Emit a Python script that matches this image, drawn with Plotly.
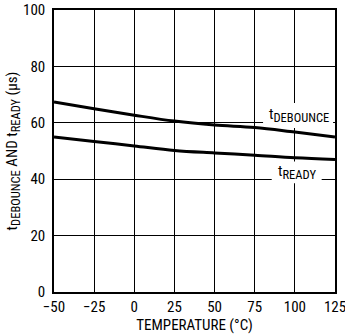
import plotly.graph_objects as go

temps = [-50, -25, 0, 25, 50, 75, 100, 125]
t_debounce = [67.4, 65.0, 62.7, 60.6, 59.2, 58.3, 56.7, 55.0]
t_ready = [55.0, 53.4, 51.8, 50.2, 49.3, 48.5, 47.6, 47.0]

x_ticks = [-50, -25, 0, 25, 50, 75, 100, 125]
x_ticklabels = ["\u221250", "\u221225", "0", "25", "50", "75", "100", "125"]
y_ticks = [0, 20, 40, 60, 80, 100]

FONT = "Liberation Sans Narrow, Arial Narrow, Roboto Condensed, sans-serif"
SUB = '<sub><span style="font-size:12.5px">{}</span></sub>'

fig = go.Figure()
for ys in (t_debounce, t_ready):
    fig.add_trace(go.Scatter(x=temps, y=ys, mode="lines", line=dict(color="black", width=3, shape="spline"),
                             showlegend=False, hoverinfo="skip"))

# white masks behind the labels (between gridlines and traces)
fig.add_shape(type="rect", x0=80.2, x1=123.8, y0=58.2, y1=67.0, fillcolor="white", line_width=0, layer="between")
fig.add_shape(type="rect", x0=85.6, x1=116.7, y0=38.6, y1=46.3, fillcolor="white", line_width=0, layer="between")

fig.add_annotation(x=102.6, y=62.7, text="t" + SUB.format("DEBOUNCE"), showarrow=False,
                   font=dict(family=FONT, size=15, color="black"), xanchor="center", yanchor="middle")
fig.add_annotation(x=101.2, y=42.5, text="t" + SUB.format("READY"), showarrow=False,
                   font=dict(family=FONT, size=15, color="black"), xanchor="center", yanchor="middle")

fig.update_xaxes(range=[-50, 125], tickvals=x_ticks, ticktext=x_ticklabels, showgrid=True, gridcolor="black",
                 gridwidth=1, showline=True, linecolor="black", linewidth=1.5, mirror=True, zeroline=False,
                 ticks="", automargin=False, ticklabeloverflow="allow",
                 title=dict(text="TEMPERATURE (\u00b0C)", standoff=7,
                            font=dict(family=FONT, size=15, color="black")),
                 tickfont=dict(family=FONT, size=15, color="black"))
fig.update_yaxes(range=[0, 100], tickvals=y_ticks, showgrid=True, gridcolor="black", gridwidth=1,
                 showline=True, linecolor="black", linewidth=1.5, mirror=True, zeroline=False, ticks="",
                 automargin=False, ticklabeloverflow="allow", ticklabelstandoff=4,
                 title=dict(text="t" + SUB.format("DEBOUNCE") + " AND t" + SUB.format("READY") + " (\u00b5s)",
                            standoff=2, font=dict(family=FONT, size=15, color="black")),
                 tickfont=dict(family=FONT, size=15, color="black"))

fig.update_layout(width=345, height=334, margin=dict(l=54, r=10, t=10, b=42),
                  plot_bgcolor="white", paper_bgcolor="white")

fig.write_html("out.html")
